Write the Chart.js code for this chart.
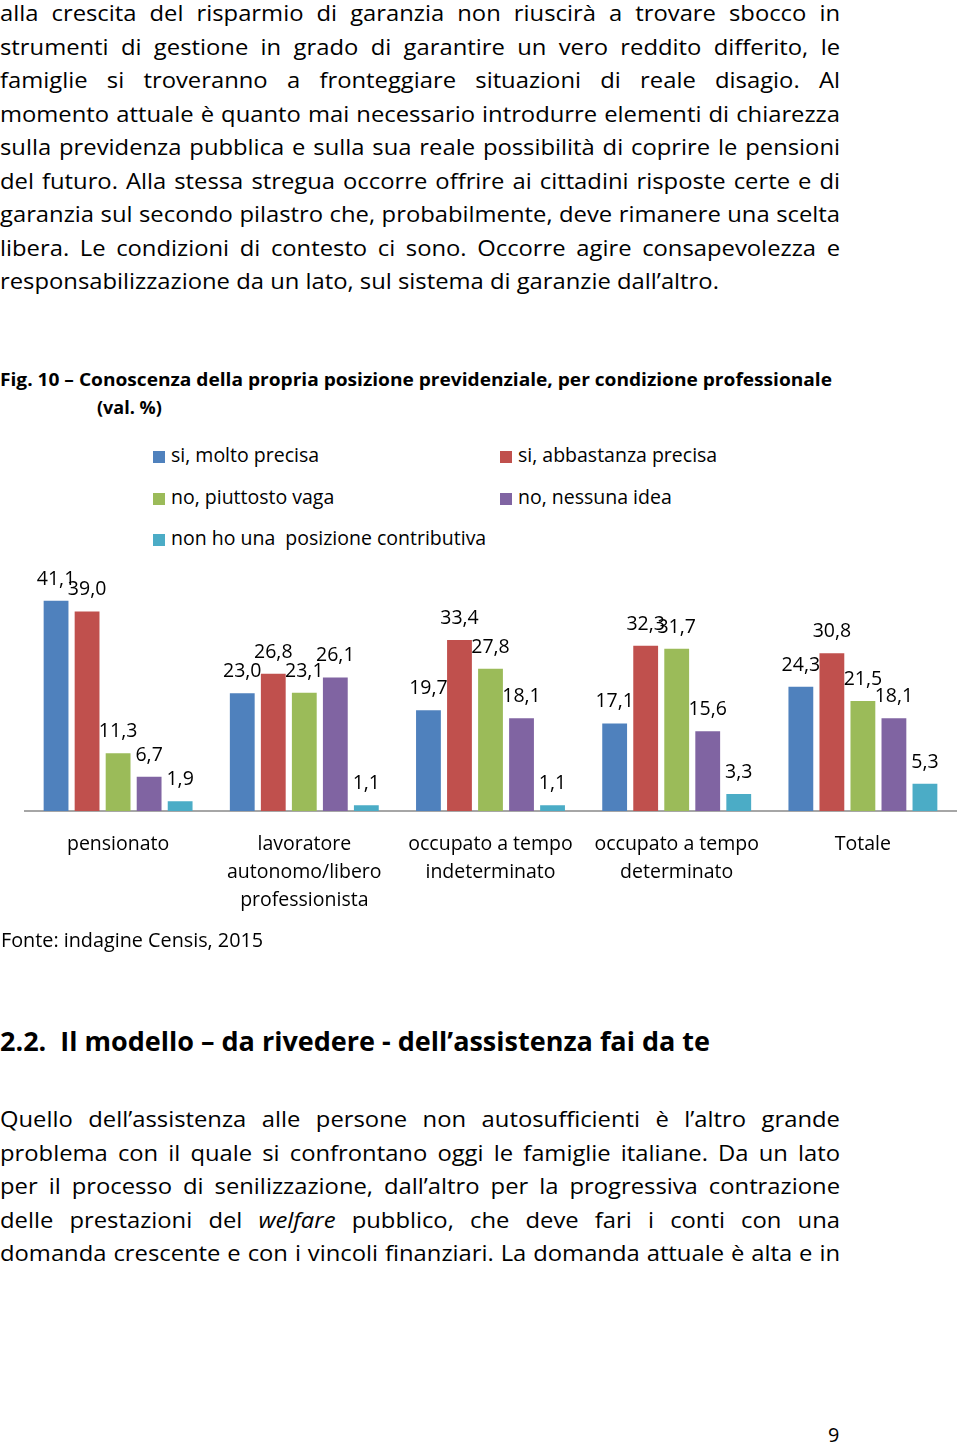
<!DOCTYPE html>
<html lang="it">
<head>
  <meta charset="UTF-8">
  <title>Fig. 10 - Conoscenza della propria posizione previdenziale</title>
  <script src="https://cdn.jsdelivr.net/npm/chart.js@4.4.0/dist/chart.umd.min.js"></script>
  <style>
    body {
      margin: 0;
      background: #fff;
      font-family: 'Open Sans', 'Lato', sans-serif;
      color: #000;
    }
    .page {
      position: relative;
      width: 960px;
      height: 1447px;
      overflow: hidden;
    }
    .abs { position: absolute; }
    .para {
      left: 0;
      font-size: 21.5px;
      line-height: 33.5px;
      transform-origin: left top;
    }
    .para div { text-align: justify; text-align-last: justify; }
    .para div.last { text-align: left; text-align-last: left; }
    .title {
      left: 0;
      font-weight: bold;
      font-size: 18px;
      line-height: 28px;
      white-space: nowrap;
      transform-origin: left top;
    }
    .legend-item {
      position: absolute;
      font-size: 19.5px;
      line-height: 24px;
      white-space: nowrap;
    }
    .legend-item span.box {
      display: inline-block;
      width: 12px;
      height: 12px;
      margin-right: 6px;
      vertical-align: -1px;
    }
    .chart-box {
      left: 0;
      top: 560px;
      width: 960px;
      height: 382px;
    }
    .note { font-size: 19.8px; white-space: nowrap; }
    .h2 {
      left: 0;
      font-weight: bold;
      font-size: 27px;
      white-space: nowrap;
      transform-origin: left top;
    }
  </style>
</head>
<body>
<div class="page" id="page">
  <div class="abs para" id="para1" style="top:-4px"></div>

  <div class="abs title" id="figTitle" style="top:365px">Fig. 10 – Conoscenza della propria posizione previdenziale, per condizione professionale</div>
  <div class="abs title" style="top:393px; left:97px">(val. %)</div>

  <div id="legend"></div>

  <div class="abs chart-box"><canvas id="chart"></canvas></div>

  <div class="abs note" style="left:1px; top:926px">Fonte: indagine Censis, 2015</div>

  <div class="abs h2" id="h2" style="top:1022px">2.2.&nbsp; Il modello – da rivedere - dell’assistenza fai da te</div>

  <div class="abs para" id="para2" style="top:1102px"></div>

  <div class="abs note" style="left:828px; top:1421px">9</div>
</div>

<script>
  // chart data
  const categories = [
    'pensionato',
    ['lavoratore', 'autonomo/libero', 'professionista'],
    ['occupato a tempo', 'indeterminato'],
    ['occupato a tempo', 'determinato'],
    'Totale'
  ];
  const seriesNames = [
    'si, molto precisa',
    'si, abbastanza precisa',
    'no, piuttosto vaga',
    'no, nessuna idea',
    'non ho una  posizione contributiva'
  ];
  const moltoPrecisa = [41.1, 23.0, 19.7, 17.1, 24.3];
  const abbastanzaPrecisa = [39.0, 26.8, 33.4, 32.3, 30.8];
  const piuttostoVaga = [11.3, 23.1, 27.8, 31.7, 21.5];
  const nessunaIdea = [6.7, 26.1, 18.1, 15.6, 18.1];
  const nonHoPosizione = [1.9, 1.1, 1.1, 3.3, 5.3];
  const colors = ['#4F81BD', '#C0504D', '#9BBB59', '#8064A2', '#4BACC6'];

  // page text
  const para1 = [
    'alla crescita del risparmio di garanzia non riuscirà a trovare sbocco in',
    'strumenti di gestione in grado di garantire un vero reddito differito, le',
    'famiglie si troveranno a fronteggiare situazioni di reale disagio. Al',
    'momento attuale è quanto mai necessario introdurre elementi di chiarezza',
    'sulla previdenza pubblica e sulla sua reale possibilità di coprire le pensioni',
    'del futuro. Alla stessa stregua occorre offrire ai cittadini risposte certe e di',
    'garanzia sul secondo pilastro che, probabilmente, deve rimanere una scelta',
    'libera. Le condizioni di contesto ci sono. Occorre agire consapevolezza e',
    'responsabilizzazione da un lato, sul sistema di garanzie dall’altro.'
  ];
  const para2 = [
    'Quello dell’assistenza alle persone non autosufficienti è l’altro grande',
    'problema con il quale si confrontano oggi le famiglie italiane. Da un lato',
    'per il processo di senilizzazione, dall’altro per la progressiva contrazione',
    'delle prestazioni del <i>welfare</i> pubblico, che deve fari i conti con una',
    'domanda crescente e con i vincoli finanziari. La domanda attuale è alta e in'
  ];

  const bodyFont = '21.5px "Open Sans"';
  const measure = document.createElement('canvas').getContext('2d');

  function textWidth(str, font) {
    measure.font = font;
    return measure.measureText(str.replace(/<[^>]+>/g, '')).width;
  }

  // horizontal scale so that the widest line of the first paragraph fills the column
  let maxW = 0;
  para1.forEach(l => { maxW = Math.max(maxW, textWidth(l, bodyFont)); });
  const k = 837 / maxW;

  function buildPara(id, lines, lastLeft) {
    const el = document.getElementById(id);
    lines.forEach((l, i) => {
      const d = document.createElement('div');
      d.innerHTML = l;
      if (lastLeft && i === lines.length - 1) d.className = 'last';
      el.appendChild(d);
    });
    el.style.width = (840 / k) + 'px';
    el.style.transform = 'scaleX(' + k + ')';
  }

  buildPara('para1', para1, true);
  buildPara('para2', para2, false);

  function fitLine(id, font, target) {
    const el = document.getElementById(id);
    const w = textWidth(el.textContent, font);
    el.style.transform = 'scaleX(' + (target / w) + ')';
  }
  fitLine('figTitle', 'bold 18px "Open Sans"', 832);
  fitLine('h2', 'bold 27px "Open Sans"', 710);

  // legend in two columns
  const legend = document.getElementById('legend');
  seriesNames.forEach((name, i) => {
    const item = document.createElement('div');
    item.className = 'legend-item';
    item.style.left = (153 + (i % 2) * 347) + 'px';
    item.style.top = (443 + Math.floor(i / 2) * 41.5) + 'px';
    item.innerHTML = '<span class="box" style="background:' + colors[i] + '"></span>' + name.replace(/ /g, '&nbsp;');
    legend.appendChild(item);
  });

  const fmt = v => v.toFixed(1).replace('.', ',');

  const valueLabels = {
    id: 'valueLabels',
    afterDatasetsDraw(chart) {
      const ctx = chart.ctx;
      ctx.save();
      ctx.font = '19.5px "Open Sans"';
      ctx.fillStyle = '#000';
      ctx.textAlign = 'center';
      ctx.textBaseline = 'alphabetic';
      chart.data.datasets.forEach((ds, i) => {
        chart.getDatasetMeta(i).data.forEach((bar, j) => {
          ctx.fillText(fmt(ds.data[j]), bar.x, bar.y - 16);
        });
      });
      ctx.restore();
    }
  };

  const seriesData = [moltoPrecisa, abbastanzaPrecisa, piuttostoVaga, nessunaIdea, nonHoPosizione];

  new Chart(document.getElementById('chart'), {
    type: 'bar',
    data: {
      labels: categories,
      datasets: seriesData.map((d, i) => ({
        label: seriesNames[i],
        data: d,
        backgroundColor: colors[i],
        categoryPercentage: 0.833,
        barPercentage: 0.8
      }))
    },
    options: {
      responsive: true,
      maintainAspectRatio: false,
      animation: false,
      layout: { padding: { left: 25, right: 4, top: 20.7, bottom: 9 } },
      plugins: { legend: { display: false }, tooltip: { enabled: false } },
      scales: {
        x: {
          grid: { display: false, drawTicks: false },
          border: { display: true, color: '#A6A6A6', width: 2 },
          ticks: {
            color: '#000',
            padding: 19,
            maxRotation: 0,
            autoSkip: false,
            font: { family: '"Open Sans"', size: 19.5, lineHeight: 1.436 }
          }
        },
        y: { display: false, min: 0, max: 45 }
      }
    },
    plugins: [valueLabels]
  });
</script>
</body>
</html>
